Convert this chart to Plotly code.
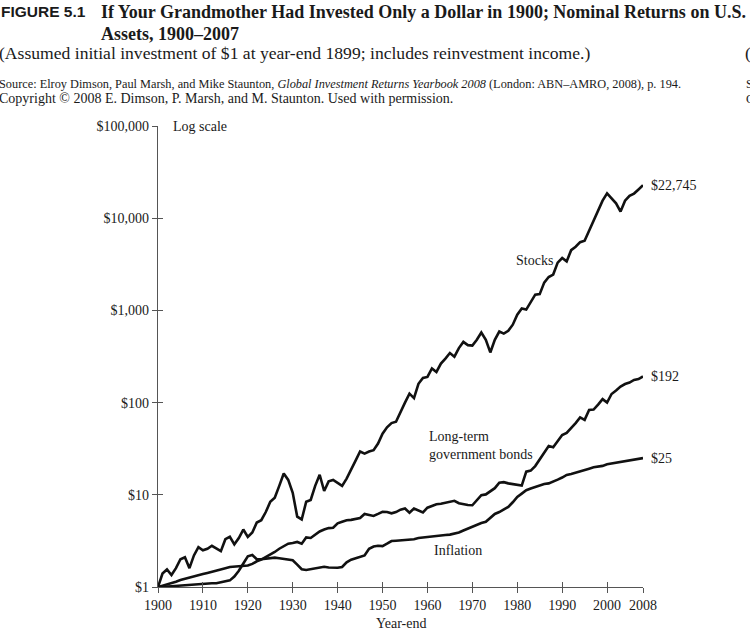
import math
import plotly.graph_objects as go

years = list(range(1900, 2009))

stocks = [
    1.0, 1.4, 1.55, 1.35, 1.6, 2.0, 2.1, 1.6, 2.2, 2.7,
    2.5, 2.6, 2.8, 2.6, 2.45, 3.3, 3.5, 2.9, 3.4, 4.2,
    3.5, 3.9, 5.0, 5.3, 6.5, 8.4, 9.3, 12.5, 17.0, 14.5,
    10.5, 5.8, 5.4, 8.4, 8.8, 12.5, 16.5, 11.0, 14.0, 14.5,
    13.5, 12.5, 15.0, 18.5, 23.5, 29.5, 28.0, 29.5, 30.5, 36.0,
    46.0, 54.0, 60.0, 62.0, 80.0, 100.0, 125.0, 112.0, 160.0, 185.0,
    190.0, 235.0, 215.0, 265.0, 300.0, 345.0, 315.0, 390.0, 455.0, 420.0,
    415.0, 480.0, 575.0, 480.0, 350.0, 480.0, 590.0, 560.0, 600.0, 700.0,
    900.0, 1050.0, 1020.0, 1250.0, 1480.0, 1500.0, 2000.0, 2300.0, 2450.0, 3300.0,
    3700.0, 3400.0, 4500.0, 4900.0, 5500.0, 5700.0, 7400.0, 9500.0, 12200.0, 15500.0,
    18600.0, 16500.0, 14500.0, 11800.0, 15500.0, 17500.0, 18500.0, 20500.0, 22745.0,
]

bonds = [
    1.0, 1.03, 1.06, 1.1, 1.14, 1.19, 1.23, 1.26, 1.3, 1.34,
    1.38, 1.42, 1.47, 1.52, 1.56, 1.6, 1.65, 1.67, 1.68, 1.7,
    1.71, 1.78, 1.9, 1.98, 2.1, 2.25, 2.4, 2.6, 2.75, 2.95,
    3.0, 3.08, 2.95, 3.45, 3.4, 3.7, 4.0, 4.2, 4.35, 4.4,
    4.9, 5.1, 5.3, 5.35, 5.45, 5.6, 6.2, 6.0, 5.9, 6.2,
    6.55, 6.5, 6.3, 6.5, 6.9, 7.1, 6.4, 7.1, 6.8, 6.45,
    7.25, 7.5, 7.9, 8.0, 8.2, 8.3, 8.6, 8.1, 7.9, 7.75,
    7.7, 8.7, 9.9, 10.1, 10.8, 11.8, 13.5, 13.7, 13.3, 13.1,
    12.9, 12.6, 17.8, 18.3, 20.5, 24.3, 29.5, 33.8, 32.7, 38.5,
    44.5, 47.0, 52.6, 60.0, 69.0, 65.0, 83.0, 84.0, 95.0, 109.0,
    100.0, 124.0, 135.0, 149.0, 159.0, 165.0, 176.0, 180.0, 192.0,
]

inflation = [
    1.0, 1.0, 1.01, 1.02, 1.03, 1.04, 1.05, 1.06, 1.07, 1.08,
    1.09, 1.09, 1.1, 1.1, 1.12, 1.15, 1.18, 1.3, 1.5, 1.8,
    2.15, 2.22, 2.0, 2.0, 2.02, 2.05, 2.08, 2.05, 2.02, 1.98,
    1.95, 1.75, 1.56, 1.53, 1.56, 1.58, 1.6, 1.66, 1.63, 1.62,
    1.62, 1.65, 1.85, 1.98, 2.05, 2.1, 2.2, 2.6, 2.75, 2.8,
    2.78, 2.95, 3.15, 3.18, 3.2, 3.21, 3.23, 3.3, 3.4, 3.45,
    3.51, 3.55, 3.6, 3.62, 3.66, 3.7, 3.78, 3.9, 4.1, 4.3,
    4.5, 4.75, 4.95, 5.1, 5.6, 6.2, 6.5, 6.9, 7.4, 8.3,
    9.5, 10.3, 11.2, 11.7, 12.2, 12.6, 13.1, 13.3, 13.8, 14.6,
    15.4, 16.4, 16.8, 17.3, 17.9, 18.4, 19.2, 19.9, 20.2, 20.6,
    21.4, 21.8, 22.3, 22.9, 23.4, 23.8, 24.2, 24.5, 25.0,
]

x_ticks = [1900, 1910, 1920, 1930, 1940, 1950, 1960, 1970, 1980, 1990, 2000, 2008]
y_ticks = [1, 10, 100, 1000, 10000, 100000]
y_tick_text = ["$1", "$10", "$100", "$1,000", "$10,000", "$100,000"]

end_labels = ["$22,745", "$192", "$25"]

W, H = 750, 632
L, R, T, B = 158, 107, 126, 45
PW, PH = W - L - R, H - T - B

def px(xp):
    return (xp - L) / PW

def py(yp):
    return (H - B - yp) / PH

SERIF = "Liberation Serif, Times New Roman, serif"
INK = "#1a1a1a"
AXC = "#555555"

fig = go.Figure()
for ser in (stocks, bonds, inflation):
    fig.add_trace(go.Scatter(x=years, y=ser, mode="lines",
                             line=dict(color="#111111", width=2.6),
                             showlegend=False, hoverinfo="skip"))
# invisible trace anchoring the overlay axes (upper/right halves of the crossing ticks)
fig.add_trace(go.Scatter(x=years, y=inflation, mode="lines", xaxis="x2", yaxis="y2",
                         line=dict(width=0), showlegend=False, hoverinfo="skip"))

tick_common = dict(showgrid=False, zeroline=False, tickcolor=AXC, tickwidth=1.3, ticklen=5)

fig.update_layout(
    width=W, height=H, autosize=False,
    margin=dict(l=L, r=R, t=T, b=B),
    paper_bgcolor="white", plot_bgcolor="white",
    font=dict(family=SERIF, color=INK, size=14),
    xaxis=dict(range=[1900, 2008], tickvals=x_ticks, ticktext=[str(v) for v in x_ticks],
               ticks="outside", showline=True, linecolor=AXC, linewidth=1.3,
               tickfont=dict(size=14, family=SERIF, color=INK), **tick_common),
    yaxis=dict(type="log", range=[0, 5], tickvals=y_ticks, ticktext=y_tick_text,
               ticks="outside", showline=True, linecolor=AXC, linewidth=1.3,
               tickfont=dict(size=14, family=SERIF, color=INK), **tick_common),
    xaxis2=dict(range=[1900, 2008], tickvals=x_ticks, overlaying="x", ticks="inside",
                showline=False, showticklabels=False, anchor="y2", **tick_common),
    yaxis2=dict(type="log", range=[0, 5], tickvals=y_ticks, overlaying="y", ticks="inside",
                showline=False, showticklabels=False, anchor="x2", **tick_common),
)

ann = []
def text(x, y, s, size=14, xanchor="left", family=SERIF):
    ann.append(dict(x=x, y=y, text=s, xref="paper", yref="paper", showarrow=False,
                    xanchor=xanchor, yanchor="middle",
                    font=dict(size=size, family=family, color=INK), align="left"))

# header
text(px(-1), py(12), "<b>FIGURE 5.1</b>", size=15.5,
     family="Liberation Sans Narrow, Arial Narrow, Liberation Sans, sans-serif")
text(px(99), py(12), "<b>If Your Grandmother Had Invested Only a Dollar in 1900; Nominal Returns on U.S.</b>", size=18)
text(px(99), py(34), "<b>Assets, 1900–2007</b>", size=18)
text(px(-3), py(53), "(Assumed initial investment of $1 at year-end 1899; includes reinvestment income.)", size=17.6)
text(px(-3), py(84), "Source: Elroy Dimson, Paul Marsh, and Mike Staunton, <i>Global Investment Returns Yearbook 2008</i> (London: ABN–AMRO, 2008), p. 194.", size=12.3)
text(px(-3), py(99), "Copyright © 2008 E. Dimson, P. Marsh, and M. Staunton. Used with permission.", size=14)
text(px(743), py(53), "(", size=17.6)
text(px(744), py(84), "S", size=12.3)
text(px(744), py(99), "C", size=12.3)

# in-chart labels
def dtext(x, y, s, size=14):
    ann.append(dict(x=x, y=y, text=s, xref="x", yref="y", showarrow=False,
                    xanchor="left", yanchor="middle",
                    font=dict(size=size, family=SERIF, color=INK), align="left"))

dtext(1903.0, math.log10(100000), "Log scale")
dtext(1979.2, math.log10(3500), "Stocks")
dtext(1960.0, math.log10(34), "Long-term<br>government bonds")
dtext(1961.0, math.log10(2.5), "Inflation")

# end-value labels just right of the last point (paper x, data y)
for ser, lab in zip((stocks, bonds, inflation), end_labels):
    ann.append(dict(x=px(649), y=math.log10(ser[-1]), text=lab, xref="paper", yref="y",
                    showarrow=False, xanchor="left", yanchor="middle",
                    font=dict(size=14, family=SERIF, color=INK)))

text(0.5, py(623), "Year-end", size=14, xanchor="center")

fig.update_layout(annotations=ann)
fig.write_html("out.html", config={"displayModeBar": False},
               post_script="document.body.style.margin='0';document.body.style.overflow='hidden';")
